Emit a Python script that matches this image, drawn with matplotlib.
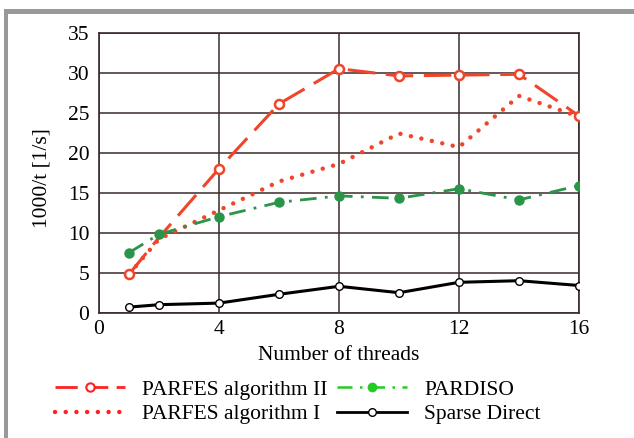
import matplotlib
matplotlib.use('Agg')
import matplotlib.pyplot as plt
from matplotlib.lines import Line2D
from matplotlib.patches import Rectangle

plt.rcParams['font.family'] = ['Liberation Serif', 'DejaVu Serif']
plt.rcParams['font.size'] = 15.5

# threads
threads = [1, 2, 4, 6, 8, 10, 12, 14, 16]

# 1000/t [1/s]
parfes_2 = [4.8, 9.4, 18.0, 26.1, 30.5, 29.6, 29.7, 29.8, 24.6]
parfes_1 = [4.8, 9.2, 12.8, 16.4, 18.6, 22.4, 20.7, 27.1, 24.5]
pardiso = [7.5, 9.8, 12.0, 13.8, 14.6, 14.3, 15.5, 14.1, 15.9]
sparse_direct = [0.7, 1.0, 1.2, 2.3, 3.3, 2.5, 3.8, 4.0, 3.4]

labels = ['PARFES algorithm II', 'PARFES algorithm I', 'PARDISO', 'Sparse Direct']

W, H = 634, 438
fig = plt.figure(figsize=(W / 100, H / 100), dpi=100)
ax = fig.add_axes([99 / W, 1 - 312.7 / H, 480 / W, 280 / H])

red = '#f0452a'
green = '#2a9448'

ax.plot(threads, parfes_2, color=red, lw=2.2, dashes=(9, 3.5),
        marker='o', ms=6.5, mfc='white', mec=red, mew=1.8, zorder=4,
        markevery=[0, 2, 3, 4, 5, 6, 7, 8])
ax.plot(threads, parfes_1, color=red, lw=3.2, dashes=(0.01, 2.4),
        dash_capstyle='round', zorder=3)
ax.plot(threads, pardiso, color=green, lw=2.0, dashes=(6, 3, 1, 3),
        marker='o', ms=6.5, mfc=green, mec=green, zorder=5)
ax.plot(threads, sparse_direct, color='black', lw=2.2,
        marker='o', ms=5.5, mfc='white', mec='black', mew=1.0, zorder=4)

ax.set_xlim(0, 16)
ax.set_ylim(0, 35)
ax.set_xticks([0, 4, 8, 12, 16])
ax.set_yticks(range(0, 36, 5))
ax.grid(True, color='#3a2a2a', lw=1.1)
ax.set_axisbelow(True)
for s in ax.spines.values():
    s.set_color('#3a2a2a')
    s.set_linewidth(1.2)
ax.tick_params(length=0)
ax.tick_params(axis='y', pad=7)
ax.tick_params(axis='x', pad=5)

ax.set_xlabel('Number of threads')
ax.xaxis.set_label_coords(0.5, -0.12)
ax.set_ylabel('1000/t [1/s]')
ax.yaxis.set_label_coords(-0.1, 0.48)

# legend with brighter handles as in the original
handles = [
    Line2D([], [], color='#ff2020', lw=2, dashes=(8, 3), marker='o', ms=6,
           mfc='white', mec='#ff2020', mew=1.5, markevery=[1]),
    Line2D([], [], color='#ff2020', lw=3.2, dashes=(0.01, 2.4), dash_capstyle='round'),
    Line2D([], [], color='#22cc22', lw=1.8, dashes=(6, 3, 1, 3), marker='o', ms=6,
           mfc='#22cc22', mec='#22cc22', markevery=[0, 2]),
    Line2D([], [], color='black', lw=2, marker='o', ms=5.5, mfc='white', mec='black',
           markevery=[1]),
]
for h in handles:
    h.set_data([0, 0.5, 1], [0, 0, 0])
leg = fig.legend(handles, labels, ncol=2, loc='upper left',
                 bbox_to_anchor=(46 / W, 1 - 371 / H), frameon=False,
                 handlelength=3.25, handletextpad=0.8, columnspacing=0.45,
                 labelspacing=0.2, borderaxespad=0)

# grey frame
fig.patches.append(Rectangle((4 / W, 1 - 14 / H), 1, 5 / H, transform=fig.transFigure,
                             color='#999999', lw=0))
fig.patches.append(Rectangle((4 / W, 0), 4 / W, 1 - 9 / H, transform=fig.transFigure,
                             color='#999999', lw=0))

fig.savefig('out.png', dpi=100)
